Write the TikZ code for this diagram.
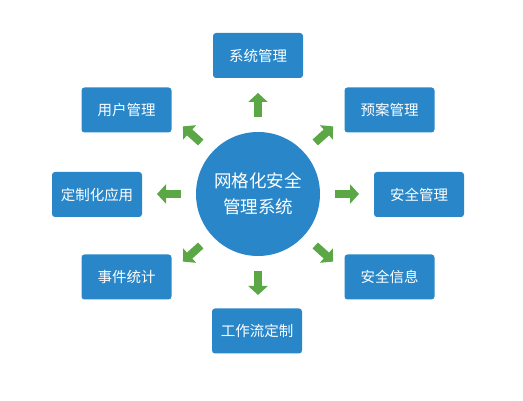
\documentclass[tikz,border=0pt]{standalone}
\usepackage{fontspec}
\newfontfamily\cjk{Noto Sans CJK SC}
\usetikzlibrary{arrows.meta}
\definecolor{boxblue}{HTML}{2987C9}
\definecolor{arrowgreen}{HTML}{5BA746}
\tikzset{
	modbox/.style={fill=boxblue, rounded corners=3pt, minimum width=90pt, minimum height=45pt, inner sep=0pt, text=white, font=\cjk\fontsize{14.5pt}{17pt}\selectfont},
	hubnode/.style={circle, fill=boxblue, minimum size=124pt, inner sep=0pt, text=white, align=center, font=\cjk\fontsize{17.5pt}{26pt}\selectfont},
	blockarrow/.style={arrowgreen, line width=8pt, -{Triangle[width=19pt,length=9pt]}}
}

\begin{document}
\begin{tikzpicture}[x=1pt,y=1pt]
		\useasboundingbox (0,0) rectangle (523,401);
		\node[hubnode] (hub) at (258,207) {网格化安全\\管理系统};
		\node[modbox] (sys) at (258,345.5) {系统管理};
		\node[modbox] (user) at (126.5,291) {用户管理};
		\node[modbox] (plan) at (389.5,291) {预案管理};
		\node[modbox] (custom) at (97,206.5) {定制化应用};
		\node[modbox] (secmgmt) at (419,206.5) {安全管理};
		\node[modbox] (event) at (126.5,124) {事件统计};
		\node[modbox] (secinfo) at (389.5,124) {安全信息};
		\node[modbox] (flow) at (257,70) {工作流定制};
		\foreach \a in {0,42,90,138,180,222,270,318}{
			\path (hub) ++(\a:77) coordinate (b\a) ++(\a:24) coordinate (t\a);
			\draw[blockarrow] (b\a) -- (t\a);
		}
		\end{tikzpicture}
\end{document}
